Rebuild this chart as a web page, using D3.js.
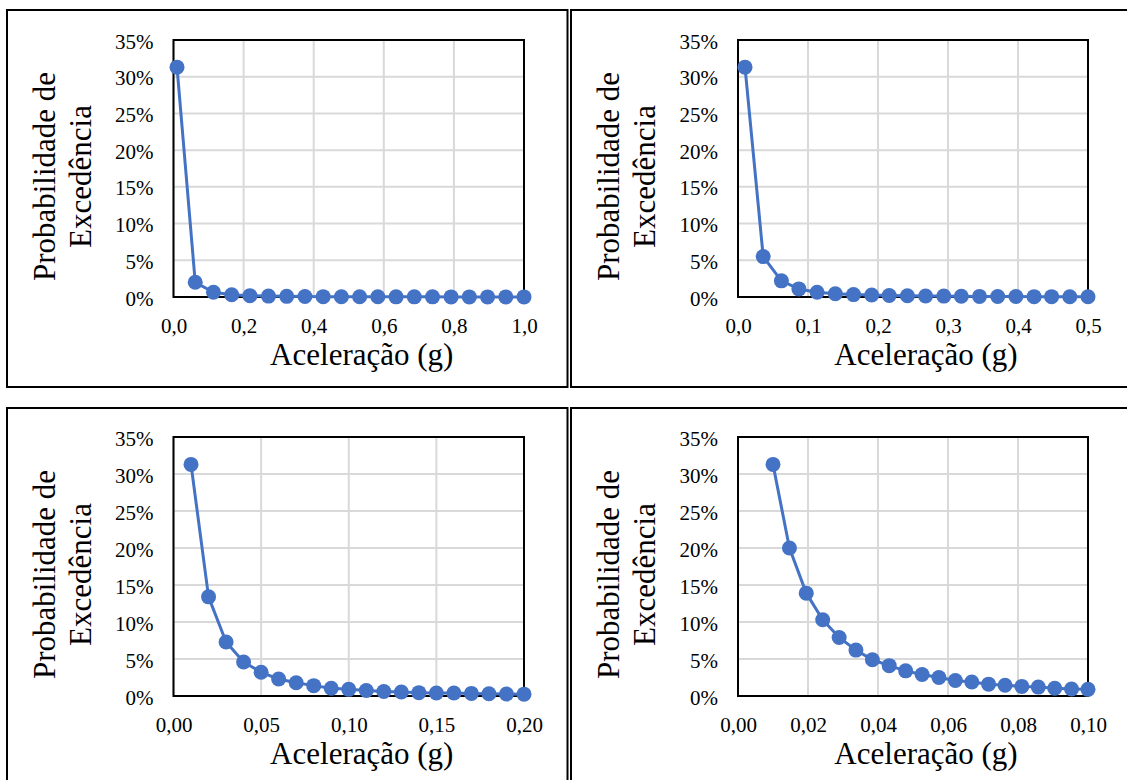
<!DOCTYPE html>
<html>
<head>
<meta charset="utf-8">
<script src="https://cdn.jsdelivr.net/npm/d3@7"></script>
<style>
  html, body { margin: 0; padding: 0; background: #fff; }
  svg { display: block; }
  text { font-family: "Liberation Serif", "Times New Roman", serif; fill: #000; }
</style>
</head>
<body>
<svg id="chart" width="1127" height="780"></svg>
<script>
// ---------- data ----------
const yTickValues = [0, 0.05, 0.10, 0.15, 0.20, 0.25, 0.30, 0.35];
const yTickLabels = ["0%", "5%", "10%", "15%", "20%", "25%", "30%", "35%"];

const xTicks1 = [0, 0.2, 0.4, 0.6, 0.8, 1.0];
const xLabels1 = ["0,0", "0,2", "0,4", "0,6", "0,8", "1,0"];
const accel1 = [0.010, 0.062, 0.114, 0.166, 0.218, 0.271, 0.323, 0.375, 0.427, 0.479,
                0.531, 0.583, 0.635, 0.687, 0.739, 0.792, 0.844, 0.896, 0.948, 1.000];
const prob1 = [31.3, 2.0, 0.65, 0.3, 0.18, 0.12, 0.09, 0.07, 0.05, 0.04,
               0.03, 0.03, 0.02, 0.02, 0.02, 0.01, 0.01, 0.01, 0.01, 0.01];

const xTicks2 = [0, 0.1, 0.2, 0.3, 0.4, 0.5];
const xLabels2 = ["0,0", "0,1", "0,2", "0,3", "0,4", "0,5"];
const accel2 = [0.010, 0.036, 0.062, 0.087, 0.113, 0.139, 0.165, 0.191, 0.216, 0.242,
                0.268, 0.294, 0.319, 0.345, 0.371, 0.397, 0.423, 0.448, 0.474, 0.500];
const prob2 = [31.3, 5.5, 2.2, 1.1, 0.65, 0.45, 0.33, 0.27, 0.2, 0.17,
               0.14, 0.12, 0.1, 0.08, 0.07, 0.06, 0.05, 0.05, 0.04, 0.04];

const xTicks3 = [0, 0.05, 0.10, 0.15, 0.20];
const xLabels3 = ["0,00", "0,05", "0,10", "0,15", "0,20"];
const accel3 = [0.01, 0.02, 0.03, 0.04, 0.05, 0.06, 0.07, 0.08, 0.09, 0.10,
                0.11, 0.12, 0.13, 0.14, 0.15, 0.16, 0.17, 0.18, 0.19, 0.20];
const prob3 = [31.3, 13.4, 7.3, 4.6, 3.2, 2.3, 1.8, 1.4, 1.05, 0.9,
               0.75, 0.6, 0.55, 0.45, 0.4, 0.4, 0.35, 0.3, 0.27, 0.25];

const xTicks4 = [0, 0.02, 0.04, 0.06, 0.08, 0.10];
const xLabels4 = ["0,00", "0,02", "0,04", "0,06", "0,08", "0,10"];
const accel4 = [0.0100, 0.0147, 0.0195, 0.0242, 0.0289, 0.0337, 0.0384, 0.0432, 0.0479, 0.0526,
                0.0574, 0.0621, 0.0668, 0.0716, 0.0763, 0.0811, 0.0858, 0.0905, 0.0953, 0.1000];
const prob4 = [31.3, 20.0, 13.9, 10.3, 7.9, 6.2, 4.9, 4.1, 3.4, 2.9,
               2.5, 2.1, 1.9, 1.6, 1.45, 1.3, 1.2, 1.05, 0.95, 0.9];

const xTitle = "Aceleração (g)";
const yTitleLines = ["Probabilidade de", "Excedência"];

// ---------- layout ----------
const panels = [
  { frame: [7, 10, 567.5, 387], plot: [173.5, 40, 524, 297], xMax: 1.0, ticks: xTicks1, labels: xLabels1, xs: accel1, ys: prob1 },
  { frame: [571, 10, 1135, 387], plot: [738, 40, 1088, 297], xMax: 0.5, ticks: xTicks2, labels: xLabels2, xs: accel2, ys: prob2 },
  { frame: [7, 408, 567.5, 800], plot: [173.5, 437, 524, 696], xMax: 0.20, ticks: xTicks3, labels: xLabels3, xs: accel3, ys: prob3 },
  { frame: [571, 408, 1135, 800], plot: [738, 437, 1088, 696], xMax: 0.10, ticks: xTicks4, labels: xLabels4, xs: accel4, ys: prob4 }
];

const svg = d3.select("#chart");
const blue = "#4472C4";
const serif = "'Liberation Serif', 'Times New Roman', serif";

panels.forEach(p => {
  const [fx0, fy0, fx1, fy1] = p.frame;
  const [px0, py0, px1, py1] = p.plot;
  const g = svg.append("g");

  // panel frame
  g.append("rect")
    .attr("x", fx0).attr("y", fy0)
    .attr("width", fx1 - fx0).attr("height", fy1 - fy0)
    .attr("fill", "none").attr("stroke", "#000").attr("stroke-width", 2);

  const x = d3.scaleLinear().domain([0, p.xMax]).range([px0, px1]);
  const y = d3.scaleLinear().domain([0, 0.35]).range([py1, py0]);

  // gridlines
  g.append("g").selectAll("line").data(p.ticks).join("line")
    .attr("x1", d => x(d)).attr("x2", d => x(d))
    .attr("y1", py0).attr("y2", py1)
    .attr("stroke", "#d9d9d9").attr("stroke-width", 2);
  g.append("g").selectAll("line").data(yTickValues).join("line")
    .attr("x1", px0).attr("x2", px1)
    .attr("y1", d => y(d)).attr("y2", d => y(d))
    .attr("stroke", "#d9d9d9").attr("stroke-width", 2);

  // plot border
  g.append("rect")
    .attr("x", px0).attr("y", py0)
    .attr("width", px1 - px0).attr("height", py1 - py0)
    .attr("fill", "none").attr("stroke", "#000").attr("stroke-width", 2);

  // x axis
  const xAxis = d3.axisBottom(x).tickValues(p.ticks)
    .tickFormat((d, i) => p.labels[i]).tickSize(0);
  const gx = g.append("g").attr("transform", `translate(0,${py1})`).call(xAxis)
    .attr("font-family", serif).attr("font-size", 21);
  gx.select(".domain").remove();
  gx.selectAll("text").attr("y", 36).attr("dy", null)
    .style("font-family", serif).style("font-size", "21px");

  // y axis
  const yAxis = d3.axisLeft(y).tickValues(yTickValues)
    .tickFormat((d, i) => yTickLabels[i]).tickSize(0);
  const gy = g.append("g").attr("transform", `translate(${px0},0)`).call(yAxis)
    .attr("font-family", serif).attr("font-size", 21);
  gy.select(".domain").remove();
  gy.selectAll("text").attr("x", -20).attr("y", 8).attr("dy", null)
    .style("font-family", serif).style("font-size", "21px");

  // titles
  g.append("text")
    .attr("x", (px0 + px1) / 2 + 13).attr("y", py1 + 68)
    .attr("text-anchor", "middle")
    .style("font-size", "31px")
    .text(xTitle);

  const cy = (py0 + py1) / 2 + 8;
  yTitleLines.forEach((line, i) => {
    const bx = px0 - 119 + i * 36;
    g.append("text")
      .attr("transform", `translate(${bx},${cy}) rotate(-90)`)
      .attr("text-anchor", "middle")
      .style("font-size", "31px")
      .text(line);
  });

  // series
  const pts = p.xs.map((v, i) => [v, p.ys[i] / 100]);
  g.append("path")
    .datum(pts)
    .attr("fill", "none").attr("stroke", blue).attr("stroke-width", 3)
    .attr("stroke-linejoin", "round")
    .attr("d", d3.line().x(d => x(d[0])).y(d => y(d[1])));
  g.append("g").selectAll("circle").data(pts).join("circle")
    .attr("cx", d => x(d[0])).attr("cy", d => y(d[1]))
    .attr("r", 7.5).attr("fill", blue);
});
</script>
</body>
</html>
